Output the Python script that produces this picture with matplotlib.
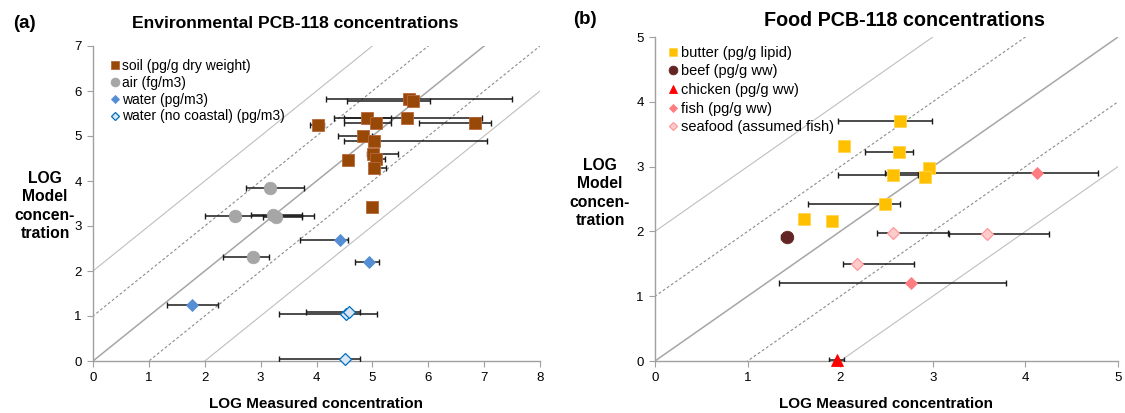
import numpy as np
import matplotlib
matplotlib.use("Agg")
import matplotlib.pyplot as plt
from matplotlib.lines import Line2D

plt.rcParams['font.family'] = ['Liberation Sans', 'DejaVu Sans']

# ---------------- Data: panel (a) ----------------
soil_x = [5.66, 5.73, 4.02, 4.90, 5.07, 5.62, 6.84, 4.83, 5.03, 5.02, 5.07, 5.03, 4.57, 4.99]
soil_y = [5.83, 5.78, 5.24, 5.39, 5.28, 5.39, 5.30, 5.00, 4.88, 4.61, 4.48, 4.30, 4.46, 3.42]
soil_lo = [4.17, 4.55, 3.89, 4.31, 4.50, 4.50, 5.84, 4.38, 4.49, 4.91, 4.97, 4.98, np.nan, np.nan]
soil_hi = [7.50, 6.03, 4.14, 5.34, 5.34, 6.96, 7.13, 5.00, 7.05, 5.45, 5.23, 5.24, np.nan, np.nan]

air_x = [3.17, 2.54, 3.22, 3.27, 2.87]
air_y = [3.84, 3.22, 3.25, 3.20, 2.32]
air_lo = [2.74, 2.00, 2.82, 3.05, 2.33]
air_hi = [3.77, 3.96, 3.74, 3.74, 3.15]

water_x = [1.78, 4.42, 4.94]
water_y = [1.24, 2.70, 2.19]
water_lo = [1.33, 3.71, 4.69]
water_hi = [2.24, 4.56, 5.11]

wnc_x = [4.53, 4.58, 4.51]
wnc_y = [1.05, 1.10, 0.05]
wnc_lo = [3.33, 3.81, 3.33]
wnc_hi = [5.09, 4.78, 4.78]

# ---------------- Data: panel (b) ----------------
butter_x = [2.65, 2.04, 2.63, 2.57, 2.96, 2.92, 2.48, 1.61, 1.91]
butter_y = [3.70, 3.32, 3.22, 2.87, 2.98, 2.84, 2.43, 2.19, 2.16]
butter_lo = [1.98, np.nan, 2.27, 1.98, np.nan, np.nan, 1.65, np.nan, np.nan]
butter_hi = [2.99, np.nan, 2.79, 2.84, np.nan, np.nan, 2.65, np.nan, np.nan]

beef_x = [1.43]
beef_y = [1.92]
beef_lo = [1.36]
beef_hi = [1.47]

chicken_x = [1.97]
chicken_y = [0.02]
chicken_lo = [1.88]
chicken_hi = [2.04]

fish_x = [4.13, 2.76]
fish_y = [2.90, 1.20]
fish_lo = [2.48, 1.34]
fish_hi = [4.78, 3.79]

seafood_x = [3.59, 2.57, 2.18]
seafood_y = [1.96, 1.97, 1.50]
seafood_lo = [3.18, 2.40, 2.03]
seafood_hi = [4.25, 3.16, 2.80]

left_series = [
    ("soil (pg/g dry weight)", soil_x, soil_y, soil_lo, soil_hi, dict(marker='s', ms=8.5, mfc='#984807', mec='#B9683A', mew=0.6)),
    ("air (fg/m3)", air_x, air_y, air_lo, air_hi, dict(marker='o', ms=9, mfc='#A6A6A6', mec='#A6A6A6', mew=0.6)),
    ("water (pg/m3)", water_x, water_y, water_lo, water_hi, dict(marker='D', ms=6.5, mfc='#558ED5', mec='#558ED5', mew=0.6)),
    ("water (no coastal) (pg/m3)", wnc_x, wnc_y, wnc_lo, wnc_hi, dict(marker='D', ms=6.5, mfc='#DCE6F2', mec='#0070C0', mew=0.9)),
]
right_series = [
    ("butter (pg/g lipid)", butter_x, butter_y, butter_lo, butter_hi, dict(marker='s', ms=8.5, mfc='#FFC000', mec='#FFD54F', mew=0.6)),
    ("beef (pg/g ww)", beef_x, beef_y, beef_lo, beef_hi, dict(marker='o', ms=9, mfc='#632523', mec='#632523', mew=0.6)),
    ("chicken (pg/g ww)", chicken_x, chicken_y, chicken_lo, chicken_hi, dict(marker='^', ms=9, mfc='#FF0000', mec='#FF0000', mew=0.6)),
    ("fish (pg/g ww)", fish_x, fish_y, fish_lo, fish_hi, dict(marker='D', ms=6.5, mfc='#FF7C80', mec='#FF7C80', mew=0.6)),
    ("seafood (assumed fish)", seafood_x, seafood_y, seafood_lo, seafood_hi, dict(marker='D', ms=6.5, mfc='#FFCCCC', mec='#FF9999', mew=0.9)),
]

fig = plt.figure(figsize=(11.25, 4.13), dpi=100)
axL = fig.add_axes([93/1125, 1-361/413, (540-93)/1125, (361-46)/413])
axR = fig.add_axes([655/1125, 1-361/413, (1118-655)/1125, (361-37)/413])


def draw_diagonals(ax):
    xs = np.array([-10, 20])
    ax.plot(xs, xs, color='#A6A6A6', lw=1.1, zorder=1)
    for off in (1, -1):
        ax.plot(xs, xs + off, color='#8C8C8C', lw=0.8, ls=(0, (2.5, 2)), zorder=1)
    for off in (2, -2):
        ax.plot(xs, xs + off, color='#BFBFBF', lw=0.8, zorder=1)


def draw_series(ax, series):
    handles = []
    for label, x, y, lo, hi, st in series:
        x = np.array(x); y = np.array(y); lo = np.array(lo); hi = np.array(hi)
        err = np.vstack([x - lo, hi - x])
        ax.errorbar(x, y, xerr=err, fmt='none', ecolor='#1A1A1A', elinewidth=1.1,
                    capsize=2.5, capthick=1.0, zorder=3)
        ax.plot(x, y, ls='none', zorder=4, clip_on=False, **st)
        hst = dict(st)
        hst['ms'] = st['ms'] * 0.7
        handles.append(Line2D([], [], ls='none', label=label, **hst))
    return handles


def style_axes(ax, xmax, ymax):
    ax.set_xlim(0, xmax)
    ax.set_ylim(0, ymax)
    ax.set_xticks(range(0, xmax + 1))
    ax.set_yticks(range(0, ymax + 1))
    for s in ('top', 'right'):
        ax.spines[s].set_visible(False)
    for s in ('left', 'bottom'):
        ax.spines[s].set_color('#A0A0A0')
        ax.spines[s].set_linewidth(1.0)
    ax.tick_params(direction='out', length=4, width=0.8, color='#A0A0A0',
                   labelsize=9.5, labelcolor='#000000', pad=4)


draw_diagonals(axL)
hL = draw_series(axL, left_series)
style_axes(axL, 8, 7)
axL.legend(handles=hL, loc='upper left', bbox_to_anchor=(0.02, 0.985), frameon=False,
           fontsize=10, handlelength=0.7, handletextpad=0.15, labelspacing=0.2,
           borderaxespad=0.2)

draw_diagonals(axR)
hR = draw_series(axR, right_series)
style_axes(axR, 5, 5)
axR.legend(handles=hR, loc='upper left', bbox_to_anchor=(0.01, 1.0), frameon=False,
           fontsize=10.5, handlelength=0.7, handletextpad=0.15, labelspacing=0.32,
           borderaxespad=0.2)

# Titles and labels
fig.text(295/1125, 1-23/413, "Environmental PCB-118 concentrations", ha='center', va='center',
         fontsize=12.6, fontweight='bold')
fig.text(904/1125, 1-20/413, "Food PCB-118 concentrations", ha='center', va='center',
         fontsize=14.2, fontweight='bold')
fig.text(24/1125, 1-24/413, "(a)", ha='center', va='center', fontsize=13.5, fontweight='bold')
fig.text(585/1125, 1-19/413, "(b)", ha='center', va='center', fontsize=13.5, fontweight='bold')

fig.text(45/1125, 1-206/413, "LOG\nModel\nconcen-\ntration", ha='center', va='center',
         fontsize=11.3, fontweight='bold', linespacing=1.3)
fig.text(600/1125, 1-193/413, "LOG\nModel\nconcen-\ntration", ha='center', va='center',
         fontsize=11.3, fontweight='bold', linespacing=1.3)

fig.text(316/1125, 1-404/413, "LOG Measured concentration", ha='center', va='center',
         fontsize=11, fontweight='bold')
fig.text(886/1125, 1-404/413, "LOG Measured concentration", ha='center', va='center',
         fontsize=11, fontweight='bold')

fig.savefig("out.png", dpi=100)
